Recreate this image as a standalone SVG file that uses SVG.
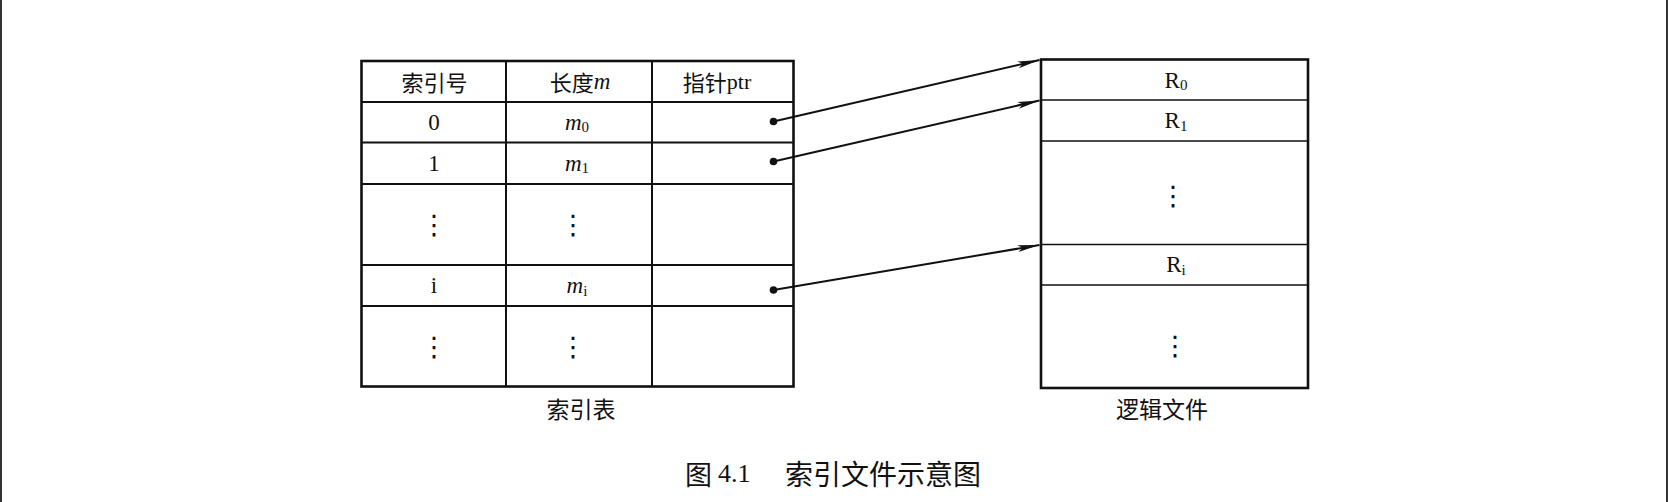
<svg xmlns="http://www.w3.org/2000/svg" width="1668" height="502" viewBox="0 0 1668 502">
<style>
.bg{fill:#ffffff}
.frame{stroke:#333333;stroke-width:2;fill:none}
.outer{fill:none;stroke:#111111;stroke-width:2.6}
.inner{stroke:#111111;stroke-width:2;fill:none}
.thin{stroke:#111111;stroke-width:1.6;fill:none}
.t{font-family:"Liberation Serif","Noto Sans CJK SC",serif;font-size:23px;fill:#111111;text-anchor:middle;dominant-baseline:central}
.cn{font-family:"Noto Sans CJK SC","Liberation Serif",sans-serif;font-size:22px;fill:#111111;text-anchor:middle;dominant-baseline:central}
.it{font-style:italic}
.sub{font-size:15px;font-style:normal}
.dots{font-family:"DejaVu Sans",sans-serif;font-size:27px;fill:#111111;text-anchor:middle;dominant-baseline:central}
.conn{stroke:#111111;stroke-width:2;fill:none}
.dot{fill:#111111}
</style>
<defs>
<marker id="arr" markerWidth="22" markerHeight="8" refX="22" refY="4" orient="auto" markerUnits="userSpaceOnUse">
<path d="M0,0.5 L22,4 L0,7.5 L5,4 Z" fill="#111111"/>
</marker>
</defs>
<rect class="bg" x="0" y="0" width="1668" height="502"/>
<line class="frame" x1="1" y1="0" x2="1" y2="502"/>
<line class="frame" x1="1667" y1="0" x2="1667" y2="502"/>

<g id="index-table">
<rect class="outer" x="361.5" y="61" width="432" height="325.5"/>
<line class="inner" x1="506" y1="61" x2="506" y2="386.5"/>
<line class="inner" x1="652" y1="61" x2="652" y2="386.5"/>
<line class="inner" x1="361.5" y1="102" x2="793.5" y2="102"/>
<line class="inner" x1="361.5" y1="142.5" x2="793.5" y2="142.5"/>
<line class="inner" x1="361.5" y1="184" x2="793.5" y2="184"/>
<line class="inner" x1="361.5" y1="265" x2="793.5" y2="265"/>
<line class="inner" x1="361.5" y1="306" x2="793.5" y2="306"/>
<text class="cn" x="434.5" y="81">索引号</text>
<text class="cn" x="580" y="81">长度<tspan class="t it" style="font-size:23px">m</tspan></text>
<text class="cn" x="717" y="81">指针<tspan class="t" style="font-size:22px">ptr</tspan></text>
<text class="t" x="434" y="122">0</text>
<text class="t it" x="577" y="122">m<tspan class="sub" dy="5">0</tspan></text>
<text class="t" x="434" y="163">1</text>
<text class="t it" x="577" y="163">m<tspan class="sub" dy="5">1</tspan></text>
<text class="dots" x="434" y="224">⋮</text>
<text class="dots" x="573" y="224">⋮</text>
<text class="t" x="434" y="285.5">i</text>
<text class="t it" x="577" y="285.5">m<tspan class="sub it" dy="5">i</tspan></text>
<text class="dots" x="434" y="346">⋮</text>
<text class="dots" x="573" y="346">⋮</text>
<text class="cn" x="581" y="408" style="font-size:23px">索引表</text>
</g>

<g id="logic-file">
<rect class="outer" x="1041" y="59.5" width="267" height="328.5"/>
<line class="thin" x1="1041" y1="100" x2="1308" y2="100"/>
<line class="thin" x1="1041" y1="141" x2="1308" y2="141"/>
<line class="thin" x1="1041" y1="244.5" x2="1308" y2="244.5"/>
<line class="thin" x1="1041" y1="285" x2="1308" y2="285"/>
<text class="t" x="1176" y="80">R<tspan class="sub" dy="5">0</tspan></text>
<text class="t" x="1176" y="120.5">R<tspan class="sub" dy="5">1</tspan></text>
<text class="dots" x="1173" y="195">⋮</text>
<text class="t" x="1176" y="264.5">R<tspan class="sub it" dy="5">i</tspan></text>
<text class="dots" x="1175" y="345">⋮</text>
<text class="cn" x="1162" y="408" style="font-size:23px">逻辑文件</text>
</g>

<g id="connectors">
<circle class="dot" cx="773.5" cy="121.5" r="3.8"/>
<circle class="dot" cx="773.5" cy="161.5" r="3.8"/>
<circle class="dot" cx="773.5" cy="290" r="3.8"/>
<line class="conn" x1="773.5" y1="121.5" x2="1039.5" y2="60" marker-end="url(#arr)"/>
<line class="conn" x1="773.5" y1="161.5" x2="1039.5" y2="100.5" marker-end="url(#arr)"/>
<line class="conn" x1="773.5" y1="290" x2="1039.5" y2="245" marker-end="url(#arr)"/>
</g>

<g id="caption">
<text class="cn" y="473" style="font-size:27px;text-anchor:start"><tspan x="685">图</tspan><tspan class="t" x="718" style="font-size:26px;text-anchor:start">4.1</tspan><tspan x="785" style="font-size:28px">索引文件示意图</tspan></text>
</g>
</svg>
